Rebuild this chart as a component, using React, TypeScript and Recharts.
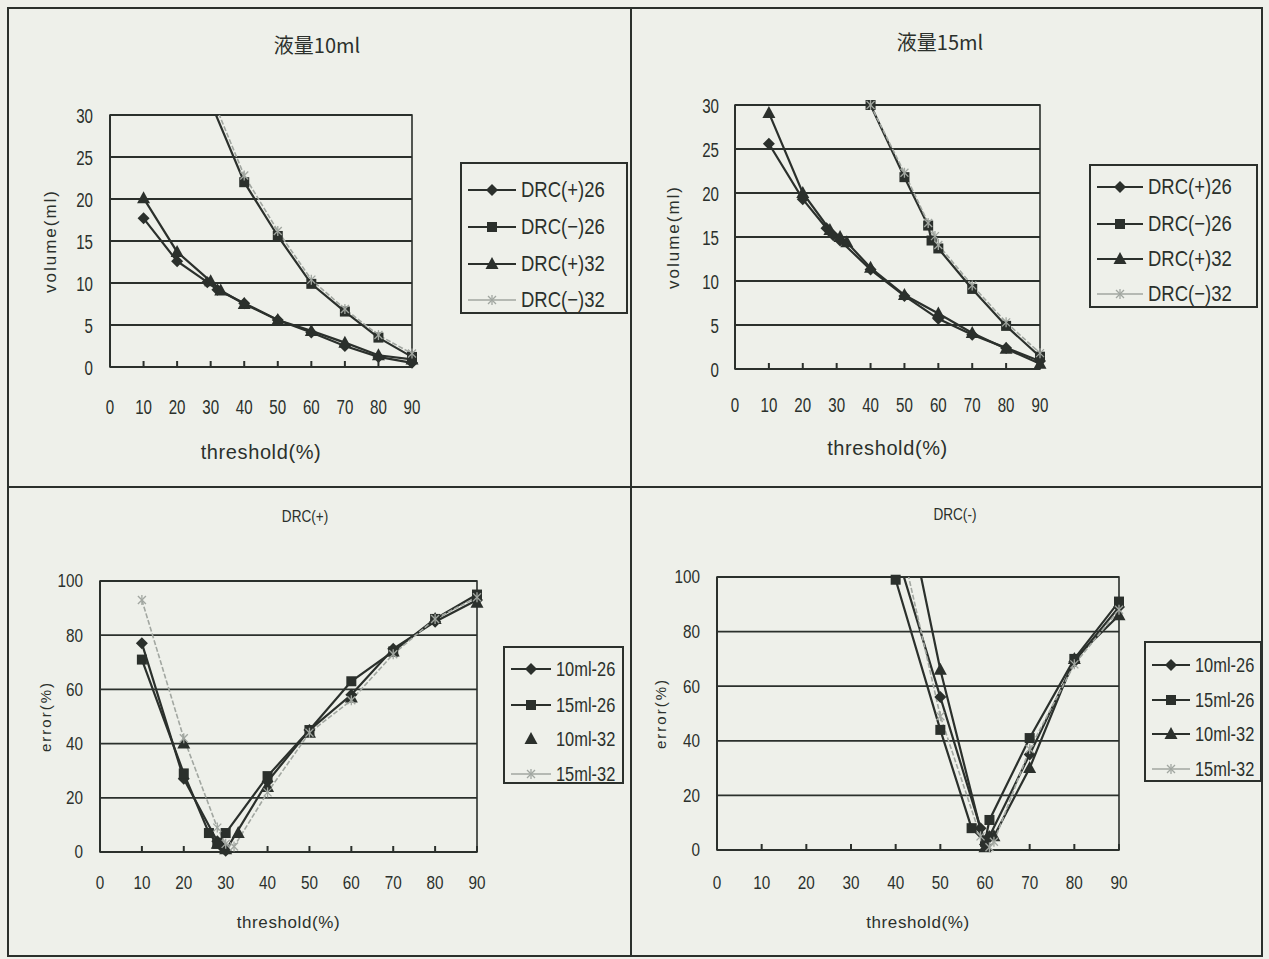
import React from 'react';
import { LineChart, Line, XAxis, YAxis, CartesianGrid, ReferenceArea, Legend } from 'recharts';

type Pt = [number, number];

// ---------- text ----------
const titles = ['液量10ml', '液量15ml', 'DRC(+)', 'DRC(-)'];
const xTitle = 'threshold(%)';
const yTitles = ['volume(ml)', 'volume(ml)', 'error(%)', 'error(%)'];
const volLegend = ['DRC(+)26', 'DRC(−)26', 'DRC(+)32', 'DRC(−)32'];
const errLegend = ['10ml-26', '15ml-26', '10ml-32', '15ml-32'];

// ---------- ticks ----------
const xTicks = [0, 10, 20, 30, 40, 50, 60, 70, 80, 90];
const volTicks = [0, 5, 10, 15, 20, 25, 30];
const errTicks = [0, 20, 40, 60, 80, 100];

// ---------- 液量10ml : volume vs threshold ----------
const vol10Pos26: Pt[] = [[10, 17.7], [20, 12.6], [29, 10.1], [32, 9.2], [40, 7.6], [50, 5.6], [60, 4.1], [70, 2.5], [80, 1.2], [90, 0.5]];
const vol10Neg26: Pt[] = [[30, 31.5], [40, 22], [50, 15.6], [60, 9.9], [70, 6.6], [80, 3.5], [90, 1.2]];
const vol10Pos32: Pt[] = [[10, 20.1], [20, 13.7], [30, 10.2], [33, 9.1], [40, 7.5], [50, 5.6], [60, 4.3], [70, 2.9], [80, 1.4], [90, 0.9]];
const vol10Neg32: Pt[] = [[30, 32.5], [40, 22.8], [50, 16.2], [60, 10.4], [70, 6.9], [80, 3.8], [90, 1.6]];

// ---------- 液量15ml ----------
const vol15Pos26: Pt[] = [[10, 25.6], [20, 19.3], [27, 16], [29, 15.2], [31, 14.6], [40, 11.3], [50, 8.3], [60, 5.7], [70, 3.9], [80, 2.4], [90, 0.9]];
const vol15Neg26: Pt[] = [[40, 30], [50, 21.8], [57, 16.3], [58, 14.6], [60, 13.7], [70, 9.1], [80, 4.9], [90, 1.4]];
const vol15Pos32: Pt[] = [[10, 29.1], [20, 20], [28, 15.8], [31, 15], [33, 14.4], [40, 11.5], [50, 8.4], [60, 6.3], [70, 4.1], [80, 2.3], [90, 0.6]];
const vol15Neg32: Pt[] = [[40, 30], [50, 22.3], [57, 16.6], [59, 15.1], [60, 14.1], [70, 9.5], [80, 5.3], [90, 1.8]];

// ---------- DRC(+) : error vs threshold ----------
const errPos10_26: Pt[] = [[10, 77], [20, 27], [28, 4], [29, 2], [30, 0.5], [40, 26], [50, 45], [60, 58], [70, 75], [80, 85], [90, 93]];
const errPos15_26: Pt[] = [[10, 71], [20, 29], [26, 7], [28, 3], [30, 7], [40, 28], [50, 45], [60, 63], [70, 74], [80, 86], [90, 95]];
const errPos10_32: Pt[] = [[20, 40], [28, 3], [30, 1], [33, 7], [40, 24], [50, 44], [60, 57], [70, 74], [80, 86], [90, 92]];
const errPos15_32: Pt[] = [[10, 93], [20, 42], [28, 9], [30, 3], [32, 2], [40, 22], [50, 44], [60, 56], [70, 73], [80, 86], [90, 94]];

// ---------- DRC(-) ----------
const errNeg10_26: Pt[] = [[40, 110], [50, 56], [59, 8], [60, 2], [61, 5], [70, 35], [80, 69], [90, 89]];
const errNeg15_26: Pt[] = [[40, 99], [50, 44], [57, 8], [60, 3], [61, 11], [70, 41], [80, 70], [90, 91]];
const errNeg10_32: Pt[] = [[40, 145], [50, 66], [60, 1], [62, 5], [70, 30], [80, 70], [90, 86]];
const errNeg15_32: Pt[] = [[40, 121], [50, 49], [59, 5], [61, 1], [62, 3], [70, 37], [80, 68], [90, 88]];

// ---------- styles ----------
const FONT = "'Liberation Sans', Arial, sans-serif";
const CJK = "'Noto Sans CJK JP', 'Noto Sans CJK SC', sans-serif";
const INK = '#2b302c';
const LIGHT = '#a2a7a1';
const BG = '#eef0ea';

type Shape = 'diamond' | 'square' | 'triangle' | 'star';
const shapes: Shape[] = ['diamond', 'square', 'triangle', 'star'];
const colors = [INK, INK, INK, LIGHT];

function Marker({ shape, cx, cy, color }: { shape: Shape; cx: number; cy: number; color: string }) {
  if (shape === 'diamond') {
    const s = 6;
    return <polygon points={`${cx},${cy - s} ${cx + s},${cy} ${cx},${cy + s} ${cx - s},${cy}`} fill={color} />;
  }
  if (shape === 'square') return <rect x={cx - 5} y={cy - 5} width={10} height={10} fill={color} />;
  if (shape === 'triangle') return <polygon points={`${cx},${cy - 7} ${cx + 6.5},${cy + 5} ${cx - 6.5},${cy + 5}`} fill={color} />;
  return (
    <g stroke={color} strokeWidth={1.3}>
      <line x1={cx - 4} y1={cy - 4} x2={cx + 4} y2={cy + 4} />
      <line x1={cx - 4} y1={cy + 4} x2={cx + 4} y2={cy - 4} />
      <line x1={cx} y1={cy - 5} x2={cx} y2={cy + 5} />
    </g>
  );
}

const makeDot = (shape: Shape, color: string, yMax: number) => (props: any) => {
  const { cx, cy, payload, index } = props;
  if (cx == null || cy == null || !payload || payload.y > yMax) return <g key={`e${index}`} />;
  return (
    <g key={`d${index}`}>
      <Marker shape={shape} cx={cx} cy={cy} color={color} />
    </g>
  );
};

const xTickRenderer = (fontSize: number, sx: number) => (props: any) => {
  const { x, y, payload } = props;
  return (
    <text transform={`translate(${x},${y + fontSize * 0.72}) scale(${sx},1)`} textAnchor="middle"
      fontFamily={FONT} fontSize={fontSize} fill={INK}>{payload.value}</text>
  );
};
const yTickRenderer = (fontSize: number, sx: number) => (props: any) => {
  const { x, y, payload } = props;
  return (
    <text transform={`translate(${x},${y + fontSize * 0.36}) scale(${sx},1)`} textAnchor="end"
      fontFamily={FONT} fontSize={fontSize} fill={INK}>{payload.value}</text>
  );
};

type Cfg = {
  left: number; top: number; width: number; height: number;
  plot: [number, number, number, number];
  yMax: number; yTicks: number[];
  series: Pt[][]; showLine: boolean[];
  legendLabels: string[];
  legendBox: [number, number, number, number];
  legendRows: number[]; legendFont: number; legendScale: number; legendLine: number;
  tickFont: number; tickScale: number; xTickMargin: number; yTickMargin: number;
  xLabelY: number; yLabelX: number; labelFont: number; yLabelFont: number;
  title: string; titlePos: [number, number]; titleFont: number; titleScale: number; titleFamily: string;
  yTitle: string;
};

function Panel({ c }: { c: Cfg }) {
  const [px0, py0, px1, py1] = c.plot;
  const margin = { top: py0 - c.top, right: c.left + c.width - px1, bottom: 0, left: 0 };
  const [lx, ly, lw, lh] = c.legendBox;

  const xLabel = (props: any) => {
    const vb = props.viewBox || {};
    return (
      <text x={vb.x + vb.width / 2} y={c.xLabelY - c.top} textAnchor="middle" dominantBaseline="central"
        fontFamily={FONT} fontSize={c.labelFont} fill={INK} letterSpacing={0.6}>{xTitle}</text>
    );
  };
  const yLabel = (props: any) => {
    const vb = props.viewBox || {};
    const cx = c.yLabelX - c.left;
    const cy = vb.y + vb.height / 2;
    return (
      <text x={cx} y={cy} transform={`rotate(-90, ${cx}, ${cy})`} textAnchor="middle" dominantBaseline="central"
        fontFamily={FONT} fontSize={c.yLabelFont} fill={INK} letterSpacing={2}>{c.yTitle}</text>
    );
  };

  const legendContent = () => (
    <div style={{ width: lw, height: lh, border: `2px solid ${INK}`, boxSizing: 'border-box', position: 'relative', background: BG }}>
      {c.legendLabels.map((lab, i) => (
        <div key={lab} style={{ position: 'absolute', left: 4, top: c.legendRows[i] - ly - 14, height: 28, display: 'flex', alignItems: 'center' }}>
          <svg width={c.legendLine + 4} height={28} style={{ display: 'block' }}>
            {c.showLine[i] && (
              <line x1={2} x2={c.legendLine + 2} y1={14} y2={14} stroke={colors[i]} strokeWidth={i === 3 ? 1.5 : 2} />
            )}
            <Marker shape={shapes[i]} cx={c.legendLine / 2 + 2} cy={14} color={colors[i]} />
          </svg>
          <span style={{ display: 'inline-block', fontFamily: FONT, fontSize: c.legendFont, color: INK, marginLeft: 3, whiteSpace: 'nowrap', lineHeight: '28px', transform: `scaleX(${c.legendScale})`, transformOrigin: 'left center' }}>{lab}</span>
        </div>
      ))}
    </div>
  );

  return (
    <div style={{ position: 'absolute', left: c.left, top: c.top, width: c.width, height: c.height }}>
      <div style={{ position: 'absolute', left: c.titlePos[0] - c.left - 100, top: c.titlePos[1] - c.top - 15, width: 200, height: 30, lineHeight: '30px', textAlign: 'center' }}>
        <span style={{ display: 'inline-block', fontFamily: c.titleFamily, fontSize: c.titleFont, color: INK, transform: `scaleX(${c.titleScale})`, transformOrigin: 'center' }}>{c.title}</span>
      </div>
      <LineChart width={c.width} height={c.height} margin={margin}>
        <CartesianGrid vertical={false} stroke={INK} strokeWidth={1.8} />
        <ReferenceArea x1={0} x2={90} y1={0} y2={c.yMax} fill="none" stroke={INK} strokeWidth={1.6} ifOverflow="visible" />
        <XAxis type="number" dataKey="x" domain={[0, 90]} ticks={xTicks} interval={0} allowDataOverflow
          height={c.top + c.height - py1} tickSize={-6} tickMargin={c.xTickMargin}
          axisLine={{ stroke: INK, strokeWidth: 2 }} tickLine={{ stroke: INK, strokeWidth: 2 }}
          tick={xTickRenderer(c.tickFont, c.tickScale)}
          label={{ content: xLabel }} />
        <YAxis type="number" domain={[0, c.yMax]} ticks={c.yTicks} interval={0} allowDataOverflow
          width={px0 - c.left} tickSize={0} tickLine={false} tickMargin={c.yTickMargin}
          axisLine={{ stroke: INK, strokeWidth: 2 }}
          tick={yTickRenderer(c.tickFont, c.tickScale)}
          label={{ content: yLabel }} />
        {c.series.map((s, i) => (
          <Line key={i} data={s.map(([x, y]) => ({ x, y }))} dataKey="y" type="linear"
            stroke={c.showLine[i] ? colors[i] : 'none'} strokeWidth={i === 3 ? 1.6 : 2.2}
            strokeDasharray={i === 3 ? '5 2' : undefined}
            dot={makeDot(shapes[i], colors[i], c.yMax)} activeDot={false}
            isAnimationActive={false} legendType="none" />
        ))}
        <Legend layout="horizontal" verticalAlign="middle" align="center" content={legendContent}
          wrapperStyle={{ left: lx - c.left, top: ly - c.top, width: lw, height: lh }} />
      </LineChart>
    </div>
  );
}

const panels: Cfg[] = [
  {
    left: 0, top: 0, width: 631, height: 487, plot: [110, 115, 412, 367],
    yMax: 30, yTicks: volTicks, series: [vol10Pos26, vol10Neg26, vol10Pos32, vol10Neg32], showLine: [true, true, true, true],
    legendLabels: volLegend, legendBox: [460, 162, 168, 152], legendRows: [188, 225, 262, 298], legendFont: 22, legendScale: 0.84, legendLine: 48,
    tickFont: 21, tickScale: 0.72, xTickMargin: 38, yTickMargin: 17, xLabelY: 452, yLabelX: 50, labelFont: 20, yLabelFont: 17,
    title: titles[0], titlePos: [317, 45], titleFont: 20, titleScale: 1, titleFamily: CJK, yTitle: yTitles[0],
  },
  {
    left: 631, top: 0, width: 631, height: 487, plot: [735, 105, 1040, 369],
    yMax: 30, yTicks: volTicks, series: [vol15Pos26, vol15Neg26, vol15Pos32, vol15Neg32], showLine: [true, true, true, true],
    legendLabels: volLegend, legendBox: [1089, 164, 169, 144], legendRows: [185, 222, 257, 292], legendFont: 22, legendScale: 0.84, legendLine: 46,
    tickFont: 21, tickScale: 0.72, xTickMargin: 34, yTickMargin: 16, xLabelY: 448, yLabelX: 673, labelFont: 20, yLabelFont: 17,
    title: titles[1], titlePos: [940, 42], titleFont: 20, titleScale: 1, titleFamily: CJK, yTitle: yTitles[1],
  },
  {
    left: 0, top: 487, width: 631, height: 472, plot: [100, 581, 477, 852],
    yMax: 100, yTicks: errTicks, series: [errPos10_26, errPos15_26, errPos10_32, errPos15_32], showLine: [true, true, false, true],
    legendLabels: errLegend, legendBox: [503, 646, 121, 138], legendRows: [667, 703, 737, 772], legendFont: 20, legendScale: 0.82, legendLine: 40,
    tickFont: 18, tickScale: 0.85, xTickMargin: 30, yTickMargin: 17, xLabelY: 922, yLabelX: 45, labelFont: 17, yLabelFont: 15,
    title: titles[2], titlePos: [305, 517], titleFont: 17, titleScale: 0.8, titleFamily: FONT, yTitle: yTitles[2],
  },
  {
    left: 631, top: 487, width: 631, height: 472, plot: [717, 577, 1119, 850],
    yMax: 100, yTicks: errTicks, series: [errNeg10_26, errNeg15_26, errNeg10_32, errNeg15_32], showLine: [true, true, true, true],
    legendLabels: errLegend, legendBox: [1144, 641, 118, 141], legendRows: [663, 698, 732, 767], legendFont: 20, legendScale: 0.82, legendLine: 38,
    tickFont: 18, tickScale: 0.85, xTickMargin: 32, yTickMargin: 17, xLabelY: 922, yLabelX: 660, labelFont: 17, yLabelFont: 15,
    title: titles[3], titlePos: [955, 515], titleFont: 17, titleScale: 0.8, titleFamily: FONT, yTitle: yTitles[3],
  },
];

export default function App() {
  return (
    <div style={{ position: 'absolute', left: 0, top: 0, width: 1269, height: 959, background: BG, overflow: 'hidden' }}>
      <style>{`.recharts-line-dots { clip-path: none !important; }`}</style>
      {panels.map((p, i) => <Panel key={i} c={p} />)}
      <div style={{ position: 'absolute', left: 7, top: 7, width: 1256, height: 950, border: `2px solid ${INK}`, boxSizing: 'border-box', pointerEvents: 'none' }} />
      <div style={{ position: 'absolute', left: 630, top: 7, width: 2, height: 950, background: INK }} />
      <div style={{ position: 'absolute', left: 7, top: 486, width: 1256, height: 2, background: INK }} />
    </div>
  );
}
